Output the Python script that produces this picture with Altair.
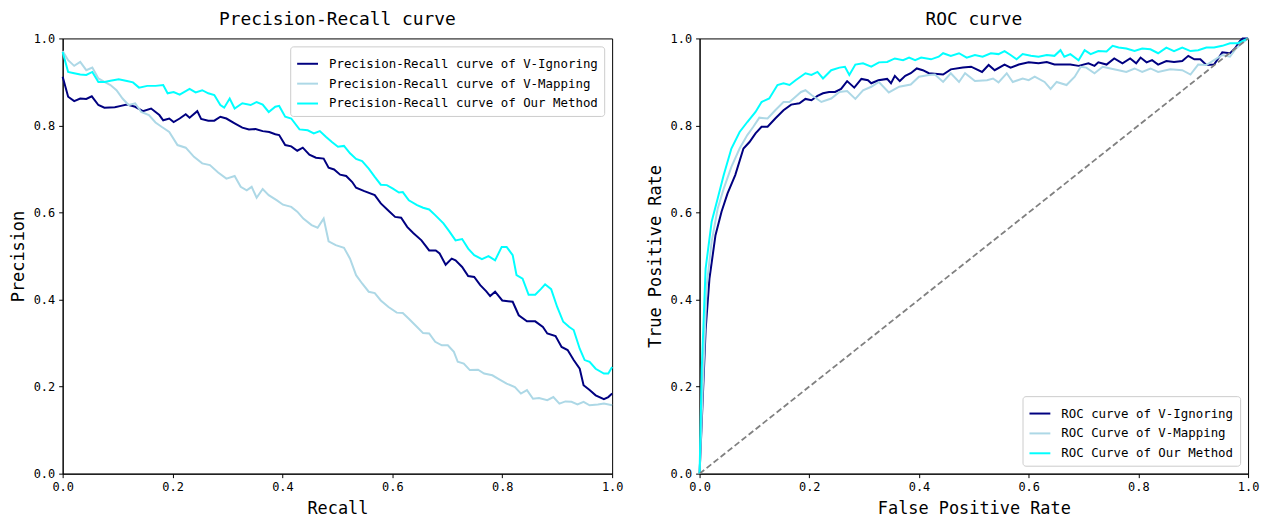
import altair as alt
import pandas as pd

# ---------------- data ----------------
PR_NAMES = ["Precision-Recall curve of V-Ignoring",
            "Precision-Recall curve of V-Mapping",
            "Precision-Recall curve of Our Method"]
ROC_NAMES = ["ROC curve of V-Ignoring",
             "ROC Curve of V-Mapping",
             "ROC Curve of Our Method"]
COLORS = ["#000080", "#ADD8E6", "#00FFFF"]
TICKS = [0.0, 0.2, 0.4, 0.6, 0.8, 1.0]

pr_ignoring = [(0.000,0.912),(0.010,0.866),(0.021,0.856),(0.032,0.862),(0.043,0.861),(0.053,0.867),(0.065,0.847),(0.076,0.841),(0.095,0.842),(0.106,0.845),(0.117,0.848),(0.132,0.843),(0.146,0.833),(0.161,0.839),(0.176,0.824),(0.183,0.812),(0.194,0.816),(0.202,0.808),(0.213,0.816),(0.224,0.826),(0.231,0.818),(0.245,0.833),(0.252,0.815),(0.265,0.811),(0.276,0.811),(0.287,0.820),(0.298,0.816),(0.313,0.805),(0.327,0.795),(0.339,0.791),(0.351,0.792),(0.364,0.787),(0.376,0.785),(0.387,0.780),(0.394,0.778),(0.405,0.755),(0.416,0.752),(0.427,0.742),(0.437,0.749),(0.449,0.733),(0.461,0.726),(0.475,0.724),(0.484,0.703),(0.494,0.699),(0.505,0.687),(0.516,0.684),(0.527,0.670),(0.534,0.657),(0.549,0.649),(0.568,0.640),(0.579,0.621),(0.594,0.603),(0.605,0.590),(0.616,0.588),(0.627,0.567),(0.638,0.553),(0.653,0.536),(0.667,0.513),(0.679,0.513),(0.686,0.506),(0.697,0.480),(0.708,0.494),(0.715,0.490),(0.727,0.475),(0.738,0.454),(0.749,0.452),(0.760,0.433),(0.771,0.419),(0.778,0.408),(0.787,0.418),(0.800,0.398),(0.819,0.395),(0.830,0.364),(0.845,0.350),(0.860,0.350),(0.874,0.337),(0.882,0.322),(0.897,0.316),(0.908,0.291),(0.919,0.284),(0.930,0.261),(0.941,0.241),(0.948,0.203),(0.959,0.192),(0.970,0.180),(0.985,0.171),(0.993,0.176),(1.000,0.184)]

pr_mapping_x = [0,.010,.021,.032,.043,.054,.065,.076,.087,.098,.109,.120,.132,.143,.157,.169,.180,.194,.209,.224,.239,.254,.268,.283,.298,.313,.324,.335,.344,.353,.364,.375,.390,.401,.416,.427,.438,.453,.464,.475,.484,.497,.512,.523,.534,.545,.557,.568,.579,.593,.608,.619,.630,.645,.656,.667,.678,.690,.701,.712,.719,.730,.741,.756,.767,.782,.793,.808,.823,.834,.845,.856,.867,.882,.893,.904,.915,.926,.937,.948,.959,.974,.985,1.0]
pr_mapping_y = [.971,.950,.937,.946,.927,.933,.908,.900,.893,.881,.862,.847,.851,.831,.824,.807,.797,.785,.755,.749,.728,.713,.709,.692,.678,.684,.659,.651,.659,.634,.654,.640,.628,.618,.613,.602,.586,.571,.565,.586,.534,.525,.519,.494,.456,.437,.418,.415,.398,.383,.370,.369,.356,.337,.323,.322,.303,.295,.295,.280,.257,.253,.238,.239,.230,.226,.218,.207,.199,.184,.192,.172,.174,.169,.176,.161,.166,.165,.159,.165,.157,.159,.161,.157]

pr_ours_x = [0,.010,.021,.032,.043,.054,.065,.076,.087,.102,.117,.128,.139,.154,.169,.183,.191,.202,.213,.231,.242,.254,.265,.276,.287,.294,.304,.313,.327,.342,.353,.364,.375,.387,.394,.405,.416,.431,.446,.457,.468,.479,.490,.501,.512,.523,.534,.545,.557,.568,.579,.590,.601,.612,.619,.630,.645,.656,.667,.678,.693,.704,.715,.727,.738,.749,.763,.775,.787,.799,.808,.819,.826,.837,.848,.860,.871,.878,.889,.900,.911,.922,.930,.941,.950,.959,.970,.985,.993,1.0]
pr_ours_y = [.969,.923,.920,.917,.916,.923,.900,.900,.903,.906,.902,.899,.887,.891,.891,.893,.874,.877,.871,.884,.876,.881,.874,.870,.847,.841,.862,.839,.851,.847,.854,.848,.831,.843,.845,.820,.816,.791,.789,.782,.787,.774,.762,.751,.753,.736,.723,.718,.701,.682,.664,.663,.655,.646,.647,.628,.617,.611,.607,.594,.575,.556,.536,.539,.517,.502,.493,.500,.490,.521,.521,.502,.456,.448,.411,.411,.425,.435,.424,.383,.349,.337,.330,.287,.261,.257,.241,.230,.230,.245]

roc_ignoring = [(0,0),(0.011,0.33),(0.018,0.448),(0.029,0.548),(0.04,0.602),(0.051,0.644),(0.065,0.686),(0.08,0.747),(0.091,0.762),(0.102,0.782),(0.113,0.797),(0.124,0.797),(0.138,0.816),(0.153,0.835),(0.167,0.848),(0.182,0.851),(0.193,0.861),(0.204,0.858),(0.215,0.868),(0.225,0.874),(0.236,0.877),(0.247,0.877),(0.258,0.884),(0.269,0.902),(0.282,0.887),(0.295,0.907),(0.307,0.904),(0.313,0.897),(0.326,0.904),(0.342,0.907),(0.349,0.897),(0.356,0.914),(0.365,0.902),(0.375,0.914),(0.385,0.920),(0.396,0.931),(0.407,0.927),(0.418,0.920),(0.444,0.917),(0.458,0.929),(0.48,0.933),(0.495,0.935),(0.515,0.923),(0.527,0.939),(0.538,0.927),(0.556,0.940),(0.567,0.933),(0.582,0.940),(0.6,0.945),(0.618,0.943),(0.633,0.946),(0.647,0.940),(0.676,0.940),(0.691,0.937),(0.709,0.943),(0.72,0.937),(0.727,0.945),(0.742,0.940),(0.756,0.954),(0.771,0.943),(0.785,0.954),(0.796,0.943),(0.804,0.956),(0.815,0.945),(0.825,0.950),(0.836,0.940),(0.851,0.948),(0.865,0.946),(0.88,0.948),(0.891,0.960),(0.902,0.952),(0.913,0.952),(0.924,0.939),(0.938,0.940),(0.953,0.968),(0.967,0.966),(0.976,0.977),(0.985,0.994),(0.99,1.0),(1.0,1.0)]

roc_mapping = [(0,0),(0.006,0.203),(0.013,0.433),(0.022,0.533),(0.033,0.609),(0.044,0.655),(0.058,0.705),(0.073,0.747),(0.087,0.778),(0.098,0.797),(0.109,0.818),(0.124,0.816),(0.138,0.835),(0.153,0.854),(0.164,0.854),(0.175,0.866),(0.185,0.877),(0.193,0.881),(0.204,0.870),(0.222,0.854),(0.24,0.862),(0.255,0.877),(0.269,0.879),(0.284,0.861),(0.298,0.881),(0.313,0.889),(0.327,0.900),(0.345,0.876),(0.364,0.889),(0.385,0.894),(0.4,0.912),(0.418,0.916),(0.429,0.917),(0.444,0.900),(0.458,0.920),(0.473,0.900),(0.484,0.920),(0.502,0.902),(0.524,0.904),(0.535,0.908),(0.545,0.899),(0.56,0.920),(0.571,0.900),(0.589,0.908),(0.6,0.904),(0.611,0.912),(0.629,0.900),(0.64,0.884),(0.651,0.900),(0.669,0.893),(0.684,0.912),(0.695,0.935),(0.705,0.933),(0.72,0.920),(0.735,0.935),(0.749,0.931),(0.764,0.927),(0.778,0.923),(0.793,0.931),(0.807,0.923),(0.822,0.931),(0.836,0.923),(0.858,0.929),(0.88,0.927),(0.895,0.917),(0.909,0.940),(0.924,0.939),(0.938,0.950),(0.953,0.962),(0.967,0.958),(0.978,0.977),(0.989,0.989),(1.0,1.0)]

roc_ours = [(0,0),(0.004,0.241),(0.011,0.471),(0.022,0.579),(0.033,0.632),(0.044,0.686),(0.058,0.747),(0.073,0.785),(0.087,0.808),(0.102,0.831),(0.113,0.854),(0.127,0.862),(0.142,0.893),(0.153,0.897),(0.164,0.893),(0.175,0.904),(0.193,0.920),(0.204,0.916),(0.215,0.923),(0.225,0.908),(0.24,0.927),(0.255,0.933),(0.265,0.935),(0.273,0.916),(0.284,0.940),(0.298,0.943),(0.313,0.935),(0.327,0.945),(0.342,0.946),(0.356,0.954),(0.371,0.950),(0.382,0.956),(0.393,0.950),(0.404,0.956),(0.422,0.952),(0.436,0.958),(0.444,0.966),(0.458,0.960),(0.473,0.966),(0.487,0.956),(0.502,0.962),(0.516,0.958),(0.531,0.966),(0.545,0.964),(0.556,0.971),(0.567,0.962),(0.578,0.952),(0.589,0.964),(0.604,0.960),(0.618,0.958),(0.633,0.962),(0.647,0.960),(0.658,0.973),(0.665,0.958),(0.676,0.964),(0.691,0.950),(0.702,0.973),(0.713,0.964),(0.727,0.971),(0.742,0.970),(0.753,0.983),(0.764,0.979),(0.778,0.977),(0.793,0.971),(0.807,0.977),(0.822,0.975),(0.836,0.966),(0.851,0.979),(0.865,0.971),(0.88,0.979),(0.895,0.971),(0.909,0.973),(0.924,0.979),(0.938,0.979),(0.953,0.983),(0.967,0.989),(0.982,0.989),(1.0,1.0)]

diag_x = [0.0, 1.0]
diag_y = [0.0, 1.0]

# ---------------- tables ----------------
def frame(pairs, name):
    return pd.DataFrame({"x": [p[0] for p in pairs], "y": [p[1] for p in pairs],
                         "series": name, "idx": range(len(pairs))})

pr_df = pd.concat([
    frame(pr_ignoring, PR_NAMES[0]),
    frame(list(zip(pr_mapping_x, pr_mapping_y)), PR_NAMES[1]),
    frame(list(zip(pr_ours_x, pr_ours_y)), PR_NAMES[2]),
], ignore_index=True)

roc_df = pd.concat([
    frame(roc_ignoring, ROC_NAMES[0]),
    frame(roc_mapping, ROC_NAMES[1]),
    frame(roc_ours, ROC_NAMES[2]),
], ignore_index=True)

diag_df = pd.DataFrame({"x": diag_x, "y": diag_y})

FONT = "DejaVu Sans Mono"
W, H = 553, 438


def axis(title, pad):
    return alt.Axis(title=title, values=TICKS, format=".1f", grid=False,
                    tickSize=4, tickColor="black", domainColor="black",
                    labelFont=FONT, labelFontSize=12, labelColor="black",
                    labelPadding=4, labelFlush=False, labelOverlap=False,
                    titleFont=FONT, titleFontSize=17, titleFontWeight="normal",
                    titleColor="black", titlePadding=pad)


def legend(orient):
    return alt.Legend(title=None, orient=orient, offset=8, symbolType="stroke",
                      symbolSize=441, symbolStrokeWidth=2, labelFont=FONT,
                      labelFontSize=12.5, labelColor="black", labelLimit=500,
                      labelOffset=10, rowPadding=2, padding=6, cornerRadius=3,
                      fillColor="white", strokeColor="#cccccc")


def title(text):
    return alt.TitleParams(text=text, font=FONT, fontSize=18, fontWeight="normal",
                           color="black", anchor="middle", offset=4)


scale01 = alt.Scale(domain=[0, 1], nice=False, zero=False)

pr_chart = alt.Chart(pr_df).mark_line(strokeWidth=2).encode(
    x=alt.X("x:Q", scale=scale01, axis=axis("Recall", 8)),
    y=alt.Y("y:Q", scale=scale01, axis=axis("Precision", 6)),
    color=alt.Color("series:N", scale=alt.Scale(domain=PR_NAMES, range=COLORS),
                    sort=PR_NAMES, legend=legend("top-right")),
    order="idx:Q",
).properties(width=W, height=H, title=title("Precision-Recall curve"))

roc_lines = alt.Chart(roc_df).mark_line(strokeWidth=2).encode(
    x=alt.X("x:Q", scale=scale01, axis=axis("False Positive Rate", 8)),
    y=alt.Y("y:Q", scale=scale01, axis=axis("True Positive Rate", 6)),
    color=alt.Color("series:N", scale=alt.Scale(domain=ROC_NAMES, range=COLORS),
                    sort=ROC_NAMES, legend=legend("bottom-right")),
    order="idx:Q",
)
roc_diag = alt.Chart(diag_df).mark_line(color="#808080", strokeWidth=1.8,
                                        strokeDash=[6, 3]).encode(
    x=alt.X("x:Q", scale=scale01),
    y=alt.Y("y:Q", scale=scale01),
)
roc_chart = alt.layer(roc_lines, roc_diag).properties(
    width=W - 1, height=H, title=title("ROC curve"))

chart = alt.hconcat(pr_chart, roc_chart, spacing=21).resolve_scale(
    color="independent").resolve_legend(color="independent").properties(
    padding={"left": 0, "top": 0, "right": 0, "bottom": 0},
    background="white",
).configure_view(stroke="black", strokeWidth=1)

chart.save("out.html", embed_options={"renderer": "svg", "actions": False})
